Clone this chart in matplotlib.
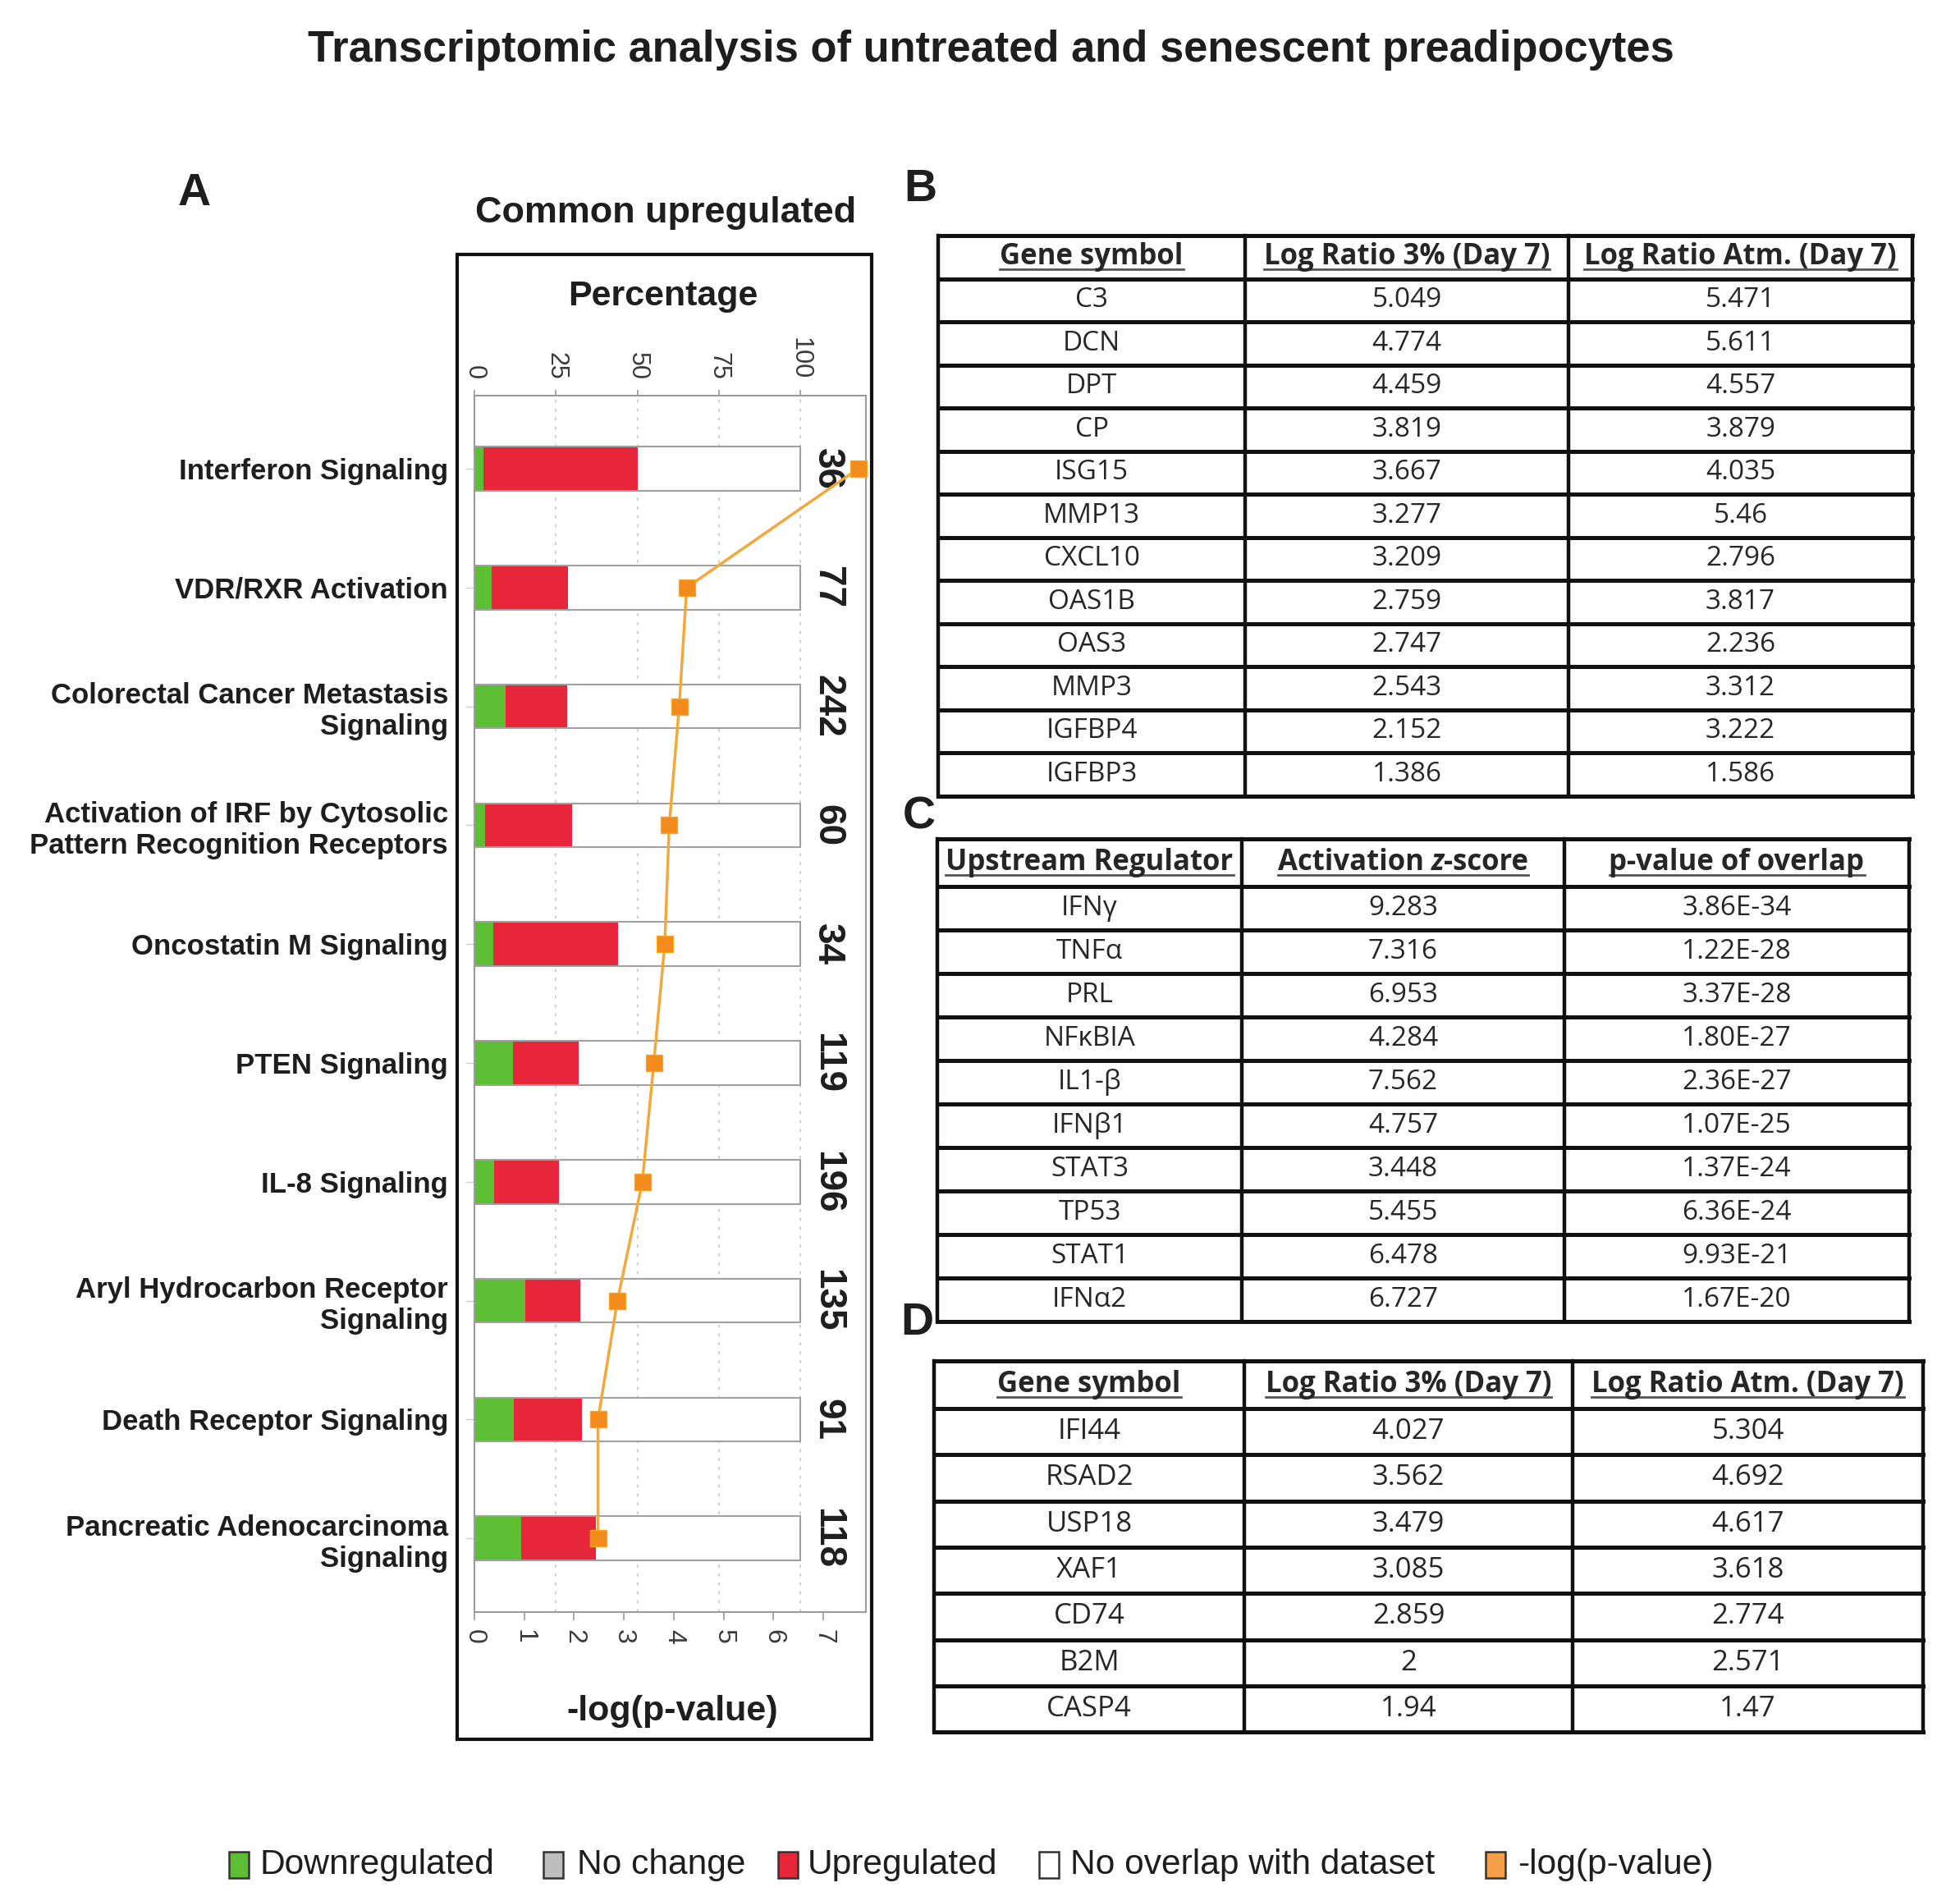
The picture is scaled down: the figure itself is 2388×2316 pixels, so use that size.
import matplotlib
matplotlib.use("Agg")
import matplotlib.pyplot as plt
from matplotlib import font_manager as fm
from matplotlib.patches import Rectangle

# ---------------- data ----------------
categories = ["Interferon Signaling", "VDR/RXR Activation",
              "Colorectal Cancer Metastasis\nSignaling",
              "Activation of IRF by Cytosolic\nPattern Recognition Receptors",
              "Oncostatin M Signaling", "PTEN Signaling", "IL-8 Signaling",
              "Aryl Hydrocarbon Receptor\nSignaling", "Death Receptor Signaling",
              "Pancreatic Adenocarcinoma\nSignaling"]
pct_down = [2.8, 5.2, 9.5, 3.3, 5.9, 11.8, 6.1, 15.6, 12.1, 14.4]
pct_up = [47.2, 23.4, 19.0, 26.7, 38.2, 20.1, 19.9, 17.0, 20.9, 22.9]
totals = [36, 77, 242, 60, 34, 119, 196, 135, 91, 118]
neglogp = [7.70, 4.26, 4.11, 3.91, 3.82, 3.60, 3.37, 2.87, 2.48, 2.48]
pct_ticks = [0, 25, 50, 75, 100]
logp_ticks = [0, 1, 2, 3, 4, 5, 6, 7]

tableB_header = ["Gene symbol", "Log Ratio 3% (Day 7)", "Log Ratio Atm. (Day 7)"]
tableB_genes = ["C3", "DCN", "DPT", "CP", "ISG15", "MMP13", "CXCL10", "OAS1B",
                "OAS3", "MMP3", "IGFBP4", "IGFBP3"]
tableB_3pct = ["5.049", "4.774", "4.459", "3.819", "3.667", "3.277", "3.209",
               "2.759", "2.747", "2.543", "2.152", "1.386"]
tableB_atm = ["5.471", "5.611", "4.557", "3.879", "4.035", "5.46", "2.796",
              "3.817", "2.236", "3.312", "3.222", "1.586"]

tableC_header = ["Upstream Regulator", "Activation z-score", "p-value of overlap"]
tableC_reg = ["IFNγ", "TNFα", "PRL", "NFκBIA", "IL1-β", "IFNβ1", "STAT3",
              "TP53", "STAT1", "IFNα2"]
tableC_z = ["9.283", "7.316", "6.953", "4.284", "7.562", "4.757", "3.448",
            "5.455", "6.478", "6.727"]
tableC_p = ["3.86E-34", "1.22E-28", "3.37E-28", "1.80E-27", "2.36E-27",
            "1.07E-25", "1.37E-24", "6.36E-24", "9.93E-21", "1.67E-20"]

tableD_header = ["Gene symbol", "Log Ratio 3% (Day 7)", "Log Ratio Atm. (Day 7)"]
tableD_genes = ["IFI44", "RSAD2", "USP18", "XAF1", "CD74", "B2M", "CASP4"]
tableD_3pct = ["4.027", "3.562", "3.479", "3.085", "2.859", "2", "1.94"]
tableD_atm = ["5.304", "4.692", "4.617", "3.618", "2.774", "2.571", "1.47"]

legend_labels = ["Downregulated", "No change", "Upregulated",
                 "No overlap with dataset", "-log(p-value)"]

# ---------------- style ----------------
W, H, DPI = 2388, 2316, 100
GREEN = "#5CBF33"
RED = "#E8263A"
GRAY_NC = "#BDBDBD"
ORANGE_M = "#F28A1C"
ORANGE_L = "#F2A93B"
TXT = "#1e1e1e"
TBL_TXT = "#262626"


def has_font(name):
    try:
        fm.findfont(fm.FontProperties(family=name), fallback_to_default=False)
        return True
    except Exception:
        return False


NARROW = "Liberation Sans Narrow" if has_font("Liberation Sans Narrow") else None


def narrow(size, weight="bold"):
    if NARROW:
        return dict(family=NARROW, fontsize=size, weight=weight)
    return dict(family="Liberation Sans", fontsize=size * 0.9, weight=weight)


SANS = "Liberation Sans"
TFONT = "Open Sans"

fig = plt.figure(figsize=(W / DPI, H / DPI), dpi=DPI)
fig.patch.set_facecolor("white")

# background axes in pixel coordinates
bg = fig.add_axes([0, 0, 1, 1])
bg.set_xlim(0, W)
bg.set_ylim(H, 0)
bg.axis("off")
bg.patch.set_alpha(0)

# title
bg.text(1207, 61, "Transcriptomic analysis of untreated and senescent preadipocytes",
        ha="center", va="center", color=TXT, **narrow(42))

# ---------------- panel A ----------------
bg.text(237, 236, "A", ha="center", va="center", family=SANS, weight="bold",
        fontsize=40, color=TXT)
bg.text(811, 260, "Common upregulated", ha="center", va="center", color=TXT,
        **narrow(36))
bg.add_patch(Rectangle((557, 310), 505, 1809, fill=False, lw=3, ec="#111111"))
bg.text(808, 361, "Percentage", ha="center", va="center", family=SANS,
        weight="bold", fontsize=31, color=TXT)
bg.text(819, 2085, "-log(p-value)", ha="center", va="center", family=SANS,
        weight="bold", fontsize=31, color=TXT)

px0, px1, py0, py1 = 578, 1055, 482, 1964
ax = fig.add_axes([px0 / W, 1 - py1 / H, (px1 - px0) / W, (py1 - py0) / H])
ax2 = ax.twiny()
pct_per_px = 100.0 / 397.0
log_per_px = 7.0 / 425.0
ax.set_xlim(0, (px1 - px0) * pct_per_px)
ax2.set_xlim(0, (px1 - px0) * log_per_px)
n = len(categories)
ypos = list(range(n))
ax.set_ylim(n - 1 + 0.62, -0.615)
ax.set_axisbelow(True)
ax.xaxis.grid(True, linestyle=(0, (2, 4)), color="#cccccc", lw=1.3)

bar_h = 0.37
nooverlap = [100 - d - u for d, u in zip(pct_down, pct_up)]
left_up = pct_down
left_no = [d + u for d, u in zip(pct_down, pct_up)]
ax.barh(ypos, pct_down, height=bar_h, color=GREEN, lw=0, zorder=2)
ax.barh(ypos, pct_up, left=left_up, height=bar_h, color=RED, lw=0, zorder=2)
ax.barh(ypos, nooverlap, left=left_no, height=bar_h, color="white", lw=0, zorder=2)
ax.barh(ypos, [100] * n, height=bar_h, fill=False, ec="#a0a0a0", lw=1.5, zorder=3)

for y, t in zip(ypos, totals):
    ax.text(108.3, y, str(t), rotation=-90, ha="center", va="center",
            family=SANS, weight="bold", fontsize=33, color=TXT, zorder=4)

# percentage axis on top
ax.xaxis.tick_top()
ax.xaxis.set_label_position("top")
ax.set_xticks(pct_ticks)
ax.set_xticklabels([str(v) for v in pct_ticks], rotation=-90, family=SANS,
                   fontsize=22, color="#3a3a3a")
ax.tick_params(axis="x", top=True, bottom=False, labeltop=True,
               labelbottom=False, length=5, width=1.2, color="#9a9a9a", pad=9)
ax.set_yticks(ypos)
ax.set_yticklabels(categories, family=SANS, weight="bold", fontsize=25,
                   color=TXT, ha="right", multialignment="right")
ax.tick_params(axis="y", length=8, width=1.0, color="#cfcfcf", pad=15)
for sp in ax.spines.values():
    sp.set_color("#9a9a9a")
    sp.set_linewidth(1.5)

# -log(p) axis on bottom
ax2.xaxis.tick_bottom()
ax2.xaxis.set_label_position("bottom")
ax2.set_xticks(logp_ticks)
ax2.set_xticklabels([str(v) for v in logp_ticks], rotation=-90, family=SANS,
                    fontsize=23, color="#3a3a3a")
ax2.tick_params(axis="x", bottom=True, top=False, labelbottom=True,
                labeltop=False, length=7, width=1.2, color="#9a9a9a", pad=8)
for sp in ax2.spines.values():
    sp.set_visible(False)
ax2.patch.set_alpha(0)
ax2.plot(neglogp, ypos, color=ORANGE_L, lw=2.5, marker="s", markersize=15,
         mfc=ORANGE_M, mec="#F5A623", mew=1.0, zorder=5, clip_on=False)

# ---------------- tables ----------------
renderer = fig.canvas.get_renderer()


def draw_header(cx, cy, segments, size):
    texts, widths, heights, gaps = [], [], [], []
    gap_px = size * DPI / 72 * 0.26
    for s, st in segments:
        g = gap_px if s.startswith(" ") else 0.0
        t = bg.text(0, cy, s.strip(), fontsize=size, family=TFONT, weight="bold",
                    style=st, ha="left", va="center", color=TBL_TXT)
        e = t.get_window_extent(renderer)
        texts.append(t)
        widths.append(e.width)
        heights.append(e.height)
        gaps.append(g)
    total = sum(widths) + sum(gaps)
    x = cx - total / 2
    for t, w, g in zip(texts, widths, gaps):
        x += g
        t.set_x(x)
        x += w
    h = max(heights)
    uy = cy + h / 2 - 3
    bg.plot([cx - total / 2, cx + total / 2], [uy, uy], color="#555555", lw=2)


def draw_table(xe, ye, header, cols, hsize, dsize):
    for x in xe:
        bg.plot([x, x], [ye[0], ye[-1]], color="#111111", lw=3.2,
                solid_capstyle="projecting")
    for y in ye:
        bg.plot([xe[0], xe[-1]], [y, y], color="#111111", lw=3.6,
                solid_capstyle="projecting")
    for j in range(len(xe) - 1):
        cx = (xe[j] + xe[j + 1]) / 2
        cy = (ye[0] + ye[1]) / 2
        draw_header(cx, cy, header[j], hsize)
        for i, val in enumerate(cols[j]):
            cyy = (ye[i + 1] + ye[i + 2]) / 2
            bg.text(cx, cyy, val, ha="center", va="center", family=TFONT,
                    fontsize=dsize, color=TBL_TXT)


def row_edges(top, hh, rh, nrows):
    return [top, top + hh] + [top + hh + rh * (k + 1) for k in range(nrows)]


# B
bg.text(1121, 231, "B", ha="center", va="center", family=SANS, weight="bold",
        fontsize=40, color=TXT)
draw_table([1143, 1517, 1911, 2330], row_edges(287, 52.5, 52.5, 12),
           [[(h, "normal")] for h in tableB_header],
           [tableB_genes, tableB_3pct, tableB_atm], 25, 24)

# C
bg.text(1120, 996, "C", ha="center", va="center", family=SANS, weight="bold",
        fontsize=40, color=TXT)
draw_table([1142, 1513, 1906, 2326], row_edges(1022, 58, 53, 10),
           [[(tableC_header[0], "normal")],
            [("Activation", "normal"), (" z", "italic"), ("-score", "normal")],
            [(tableC_header[2], "normal")]],
           [tableC_reg, tableC_z, tableC_p], 25, 24)

# D
bg.text(1117, 1612, "D", ha="center", va="center", family=SANS, weight="bold",
        fontsize=40, color=TXT)
draw_table([1138, 1516, 1916, 2343], row_edges(1658, 58, 56.3, 7),
           [[(h, "normal")] for h in tableD_header],
           [tableD_genes, tableD_3pct, tableD_atm], 25, 25)

# ---------------- legend ----------------
leg_colors = [GREEN, GRAY_NC, RED, "white", "#F4A04A"]
leg_sq_x = [291, 674, 960, 1278, 1822]
leg_tx_x = [317, 703, 984, 1304, 1849]
ly = 2272
for c, sx, tx, lab in zip(leg_colors, leg_sq_x, leg_tx_x, legend_labels):
    bg.add_patch(Rectangle((sx - 12, ly - 16), 24, 32, fc=c, ec="#333333", lw=1.8))
    bg.text(tx, ly, lab, ha="left", va="center", color=TXT, **narrow(34, "normal"))

fig.savefig("out.png", dpi=DPI, facecolor="white")
